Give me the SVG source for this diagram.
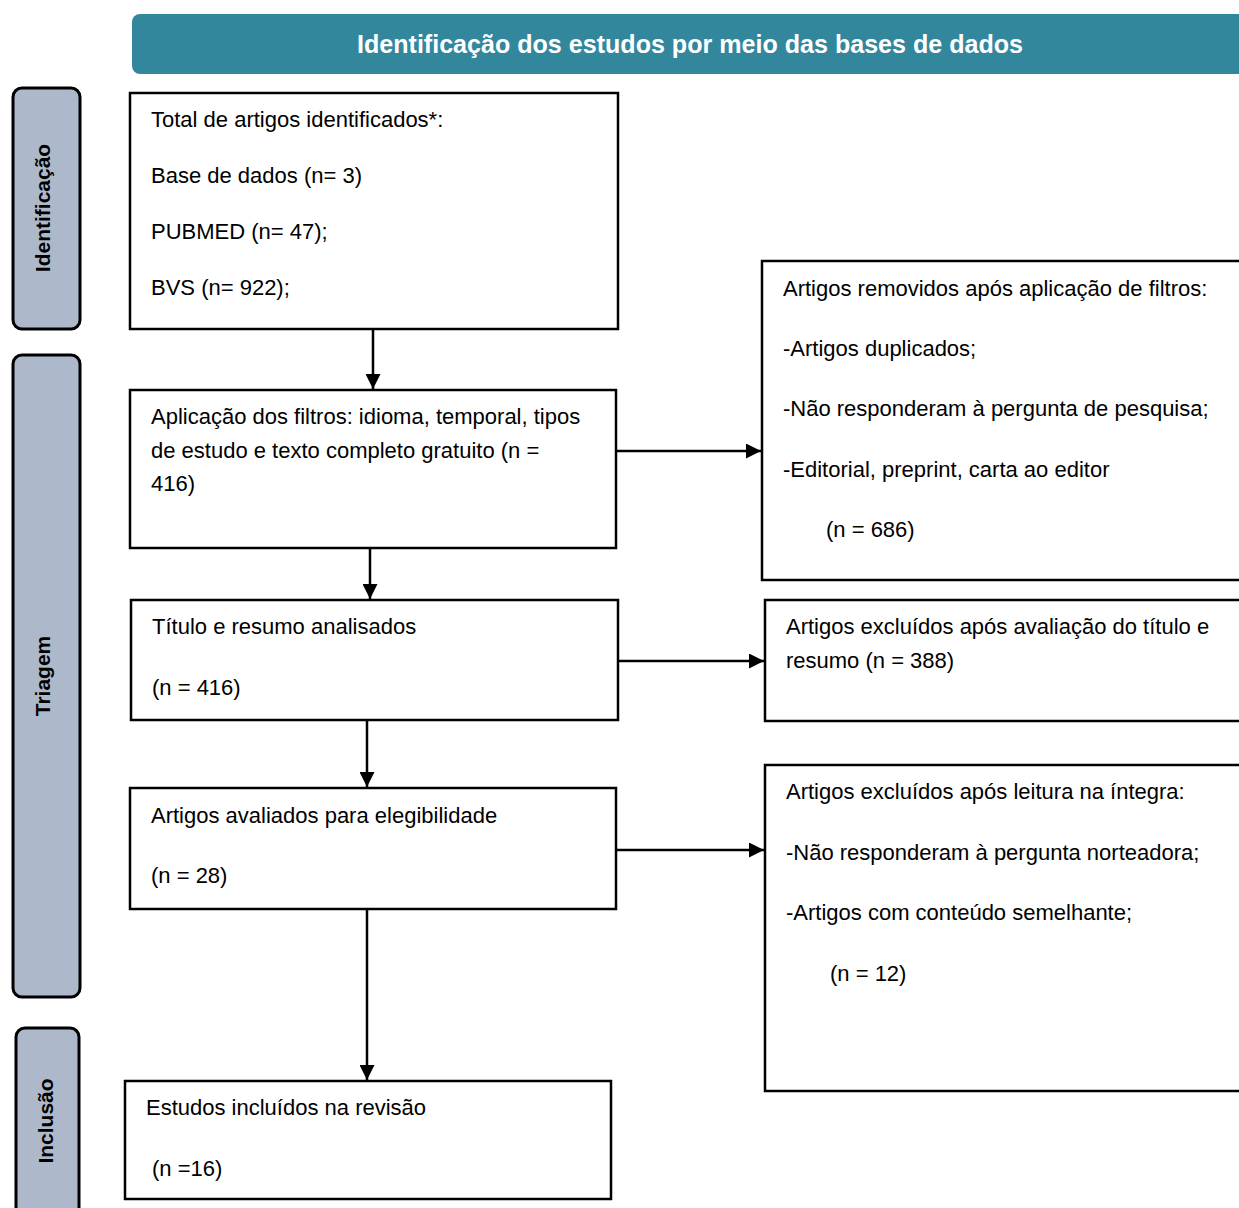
<svg xmlns="http://www.w3.org/2000/svg" width="1239" height="1208" viewBox="0 0 1239 1208">
<defs>
<style>
.box{fill:#fff;stroke:#000;stroke-width:2.5}
.side{fill:#adb9ca;stroke:#000;stroke-width:3}
.t{font-family:"Liberation Sans",Arial,sans-serif;font-size:22px;fill:#000}
.s{font-family:"Liberation Sans",Arial,sans-serif;font-size:21px;font-weight:bold;fill:#000}
.h{font-family:"Liberation Sans",Arial,sans-serif;font-size:25px;font-weight:bold;fill:#fff}
.c{stroke:#000;stroke-width:2.5;fill:none;marker-end:url(#arr)}
</style>
<marker id="arr" viewBox="0 0 10 10" refX="10" refY="5" markerWidth="6" markerHeight="6" markerUnits="strokeWidth" orient="auto">
<path d="M0,0 L10,5 L0,10 z" fill="#000"/>
</marker>
</defs>
<rect width="1239" height="1208" fill="#fff"/>
<g id="header">
<rect x="132" y="14" width="1120" height="60" rx="8" fill="#33879d"/>
<text class="h" x="690" y="53" text-anchor="middle" textLength="666" lengthAdjust="spacingAndGlyphs">Identificação dos estudos por meio das bases de dados</text>
</g>
<g id="side-identificacao">
<rect class="side" x="13" y="88" width="67" height="241" rx="9"/>
<text class="s" transform="translate(50,208) rotate(-90)" text-anchor="middle">Identificação</text>
</g>
<g id="side-triagem">
<rect class="side" x="13" y="355" width="67" height="642" rx="9"/>
<text class="s" transform="translate(50,676) rotate(-90)" text-anchor="middle">Triagem</text>
</g>
<g id="side-inclusao">
<rect class="side" x="16" y="1028" width="63" height="200" rx="9"/>
<text class="s" transform="translate(53,1121) rotate(-90)" text-anchor="middle">Inclusão</text>
</g>
<g id="connectors">
<line class="c" x1="373" y1="330" x2="373" y2="389"/>
<line class="c" x1="370" y1="549" x2="370" y2="599"/>
<line class="c" x1="367" y1="721" x2="367" y2="787"/>
<line class="c" x1="367" y1="910" x2="367" y2="1080"/>
<line class="c" x1="617" y1="451" x2="761" y2="451"/>
<line class="c" x1="619" y1="661" x2="764" y2="661"/>
<line class="c" x1="617" y1="850" x2="764" y2="850"/>
</g>
<g id="n-total">
<rect class="box" x="130" y="93" width="488" height="236"/>
<text class="t" x="151" y="127">Total de artigos identificados*:</text>
<text class="t" x="151" y="183">Base de dados (n= 3)</text>
<text class="t" x="151" y="239">PUBMED (n= 47);</text>
<text class="t" x="151" y="295">BVS (n= 922);</text>
</g>
<g id="n-filtros">
<rect class="box" x="130" y="390" width="486" height="158"/>
<text class="t" x="151" y="424">Aplicação dos filtros: idioma, temporal, tipos</text>
<text class="t" x="151" y="458">de estudo e texto completo gratuito (n =</text>
<text class="t" x="151" y="491">416)</text>
</g>
<g id="n-titulo">
<rect class="box" x="131" y="600" width="487" height="120"/>
<text class="t" x="152" y="634">Título e resumo analisados</text>
<text class="t" x="152" y="695">(n = 416)</text>
</g>
<g id="n-elegibilidade">
<rect class="box" x="130" y="788" width="486" height="121"/>
<text class="t" x="151" y="823">Artigos avaliados para elegibilidade</text>
<text class="t" x="151" y="883">(n = 28)</text>
</g>
<g id="n-incluidos">
<rect class="box" x="125" y="1081" width="486" height="118"/>
<text class="t" x="146" y="1115">Estudos incluídos na revisão</text>
<text class="t" x="152" y="1176">(n =16)</text>
</g>
<g id="n-removidos">
<rect class="box" x="762" y="261" width="500" height="319"/>
<text class="t" x="783" y="296">Artigos removidos após aplicação de filtros:</text>
<text class="t" x="783" y="356">-Artigos duplicados;</text>
<text class="t" x="783" y="416">-Não responderam à pergunta de pesquisa;</text>
<text class="t" x="783" y="477">-Editorial, preprint, carta ao editor</text>
<text class="t" x="826" y="537">(n = 686)</text>
</g>
<g id="n-excluidos-titulo">
<rect class="box" x="765" y="600" width="500" height="121"/>
<text class="t" x="786" y="634">Artigos excluídos após avaliação do título e</text>
<text class="t" x="786" y="668">resumo (n = 388)</text>
</g>
<g id="n-excluidos-leitura">
<rect class="box" x="765" y="765" width="500" height="326"/>
<text class="t" x="786" y="799">Artigos excluídos após leitura na íntegra:</text>
<text class="t" x="786" y="860">-Não responderam à pergunta norteadora;</text>
<text class="t" x="786" y="920">-Artigos com conteúdo semelhante;</text>
<text class="t" x="830" y="981">(n = 12)</text>
</g>
</svg>
